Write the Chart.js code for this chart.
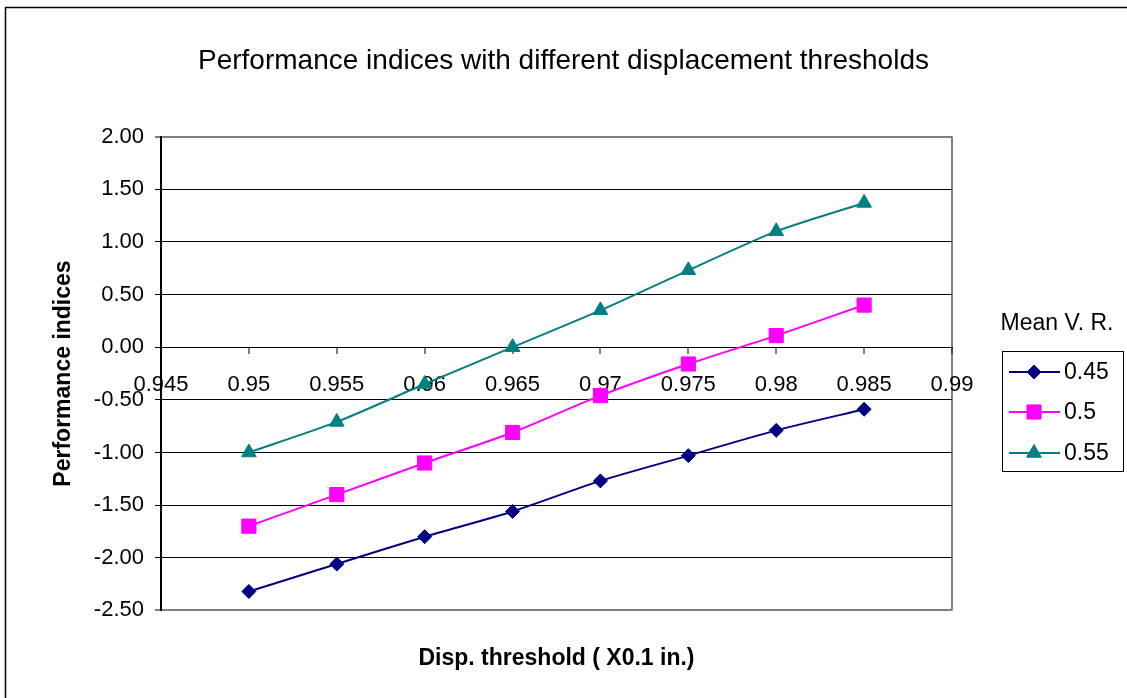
<!DOCTYPE html>
<html>
<head>
<meta charset="utf-8">
<title>Performance indices</title>
<script src="https://cdn.jsdelivr.net/npm/chart.js@4.4.1/dist/chart.umd.min.js"></script>
<style>
  html, body { margin: 0; padding: 0; background: #fff; }
  #wrap { width: 1127px; height: 698px; }
</style>
</head>
<body>
<div id="wrap"><canvas id="chart" width="1127" height="698"></canvas></div>
<script>
// values
const xValues = [0.95, 0.955, 0.96, 0.965, 0.97, 0.975, 0.98, 0.985];
const seriesLabels = ['0.45', '0.5', '0.55'];
const mvr045 = [-2.32, -2.06, -1.80, -1.56, -1.27, -1.03, -0.79, -0.59];
const mvr050 = [-1.70, -1.40, -1.10, -0.81, -0.46, -0.16, 0.11, 0.40];
const mvr055 = [-1.00, -0.71, -0.35, 0.00, 0.35, 0.73, 1.10, 1.37];
const xTicks = [0.945, 0.95, 0.955, 0.96, 0.965, 0.97, 0.975, 0.98, 0.985, 0.99];
const yTicks = [-2.5, -2.0, -1.5, -1.0, -0.5, 0.0, 0.5, 1.0, 1.5, 2.0];

const colors = ['#000080', '#FF00FF', '#008080'];
const markers = [
    { style: 'rectRot', radius: 7 },
    { style: 'rect', radius: 10 },
    { style: 'triangle', radius: 8.5 }
];

Chart.defaults.font.family = '"Liberation Sans", Arial, sans-serif';
Chart.defaults.color = '#000';

function toPoints(ys) {
    return xValues.map(function(x, i) { return { x: x, y: ys[i] }; });
}

const datasets = [mvr045, mvr050, mvr055].map(function(ys, i) {
    return {
        label: seriesLabels[i],
        data: toPoints(ys),
        borderColor: colors[i],
        backgroundColor: colors[i],
        borderWidth: 2,
        pointStyle: markers[i].style,
        pointRadius: markers[i].radius,
        pointHoverRadius: markers[i].radius,
        pointBorderWidth: 1,
        tension: 0.25
    };
});

// Excel-like legend box plus the frame around the chart
const legendBox = {
    id: 'legendBox',
    afterDraw(chart) {
        const ctx = chart.ctx;
        ctx.save();

        ctx.strokeStyle = '#000';
        ctx.lineWidth = 1.5;
        ctx.beginPath();
        ctx.moveTo(5.5, 698);
        ctx.lineTo(5.5, 7.5);
        ctx.lineTo(1127, 7.5);
        ctx.stroke();

        ctx.font = '23px "Liberation Sans", Arial, sans-serif';
        ctx.fillStyle = '#000';
        ctx.textAlign = 'center';
        ctx.textBaseline = 'middle';
        ctx.fillText('Mean V. R.', 1057, 324);

        ctx.lineWidth = 1;
        ctx.strokeRect(1002.5, 351.5, 121, 120);

        const rows = [372, 412, 453];
        chart.data.datasets.forEach(function(ds, i) {
            const y = rows[i];
            ctx.strokeStyle = ds.borderColor;
            ctx.lineWidth = 2;
            ctx.beginPath();
            ctx.moveTo(1009, y);
            ctx.lineTo(1060, y);
            ctx.stroke();
            ctx.fillStyle = ds.backgroundColor;
            ctx.lineWidth = 1;
            Chart.helpers.drawPoint(ctx, {
                pointStyle: ds.pointStyle,
                radius: ds.pointRadius,
                rotation: 0,
                borderWidth: 1
            }, 1034, y);
            ctx.fillStyle = '#000';
            ctx.textAlign = 'left';
            ctx.fillText(ds.label, 1064, y + 1);
        });
        ctx.restore();
    }
};

const ctx = document.getElementById('chart').getContext('2d');
const chart = new Chart(ctx, {
    type: 'line',
    data: { datasets: datasets },
    plugins: [legendBox],
    options: {
        responsive: false,
        animation: false,
        layout: { padding: 0 },
        plugins: {
            legend: { display: false },
            tooltip: { enabled: false },
            title: {
                display: true,
                text: 'Performance indices with different displacement thresholds',
                font: { size: 28, weight: 'normal' },
                color: '#000',
                padding: { top: 44, bottom: 59 }
            },
            subtitle: {
                display: true,
                position: 'bottom',
                fullSize: false,
                text: 'Disp. threshold ( X0.1 in.)',
                font: { size: 23, weight: 'bold' },
                color: '#000',
                padding: { top: 34, bottom: 26 }
            }
        },
        scales: {
            x: {
                type: 'linear',
                position: { y: 0 },
                min: 0.945,
                max: 0.99,
                afterBuildTicks: function(scale) {
                    scale.ticks = xTicks.map(function(v) { return { value: v }; });
                },
                ticks: {
                    font: { size: 22 },
                    color: '#000',
                    padding: 19,
                    maxRotation: 0,
                    autoSkip: false,
                    callback: function(v) { return String(v); }
                },
                grid: {
                    color: function(c) {
                        return c.tick && c.tick.value === 0.99 ? '#808080' : 'rgba(0,0,0,0)';
                    },
                    lineWidth: 2,
                    tickColor: '#000',
                    tickWidth: 1,
                    tickLength: 6
                },
                border: { display: true, color: '#000', width: 1 }
            },
            y: {
                min: -2.5,
                max: 2.0,
                afterBuildTicks: function(scale) {
                    scale.ticks = yTicks.map(function(v) { return { value: v }; });
                },
                afterFit: function(scale) { scale.width = 161; },
                ticks: {
                    font: { size: 22 },
                    color: '#000',
                    padding: 11,
                    callback: function(v) { return v.toFixed(2); }
                },
                grid: {
                    color: function(c) {
                        const v = c.tick ? c.tick.value : null;
                        return (v === 2 || v === -2.5) ? '#808080' : '#000';
                    },
                    lineWidth: function(c) {
                        const v = c.tick ? c.tick.value : null;
                        return (v === 2 || v === -2.5) ? 2 : 1;
                    },
                    tickColor: '#000',
                    tickWidth: 1,
                    tickLength: 6
                },
                border: { display: true, color: '#000', width: 2 },
                title: {
                    display: true,
                    text: 'Performance indices',
                    font: { size: 23, weight: 'bold' },
                    color: '#000',
                    padding: { top: 50, bottom: 0 }
                }
            },
            // empty right-hand axis that keeps room for the legend box
            legendSpace: {
                type: 'linear',
                position: 'right',
                display: true,
                ticks: { display: false },
                grid: { display: false },
                border: { display: false },
                afterFit: function(scale) { scale.width = 175; }
            }
        }
    }
});
</script>
</body>
</html>
